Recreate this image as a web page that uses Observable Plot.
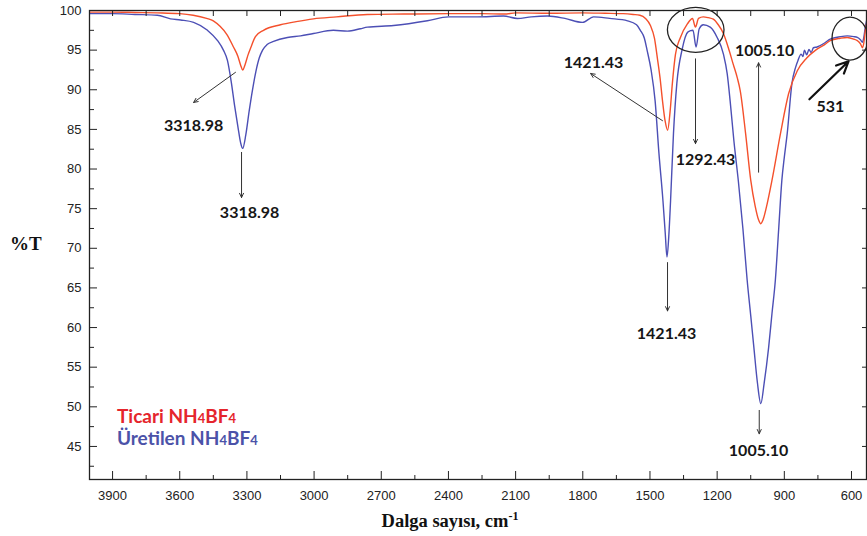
<!DOCTYPE html>
<html><head><meta charset="utf-8">
<script src="https://cdn.jsdelivr.net/npm/d3@7"></script>
<script src="https://cdn.jsdelivr.net/npm/@observablehq/plot@0.6"></script>
<style>
body{margin:0;background:#fff;}
#chart{width:867px;height:536px;}
</style></head><body><div id="chart"></div>
<script>
// ---- data (wavenumber cm-1, %T) ----
const ticariWn = [4000,3900,3800,3700,3600,3540,3480,3450,3420,3390,3360,3340,3328,3319,3308,3295,3283,3262,3226,3150,3080,3003,2900,2762,2600,2400,2250,2150,2100,1950,1800,1700,1620,1575,1545,1520,1498,1480,1467,1455,1444,1432,1421,1410,1400,1386,1364,1333,1310,1297,1283,1262,1240,1217,1195,1172,1150,1128,1110,1097,1073,1050,1030,1015,1005,995,980,955,917,881,842,800,760,720,695,650,619,590,574,560,551,545,539,533];
const ticariT  = [99.8,99.8,99.75,99.7,99.6,99.4,99.0,98.7,98.0,97.0,95.4,94.2,93.1,92.5,93.2,94.4,95.3,96.7,97.5,98.2,98.6,98.95,99.2,99.5,99.55,99.6,99.6,99.55,99.7,99.65,99.7,99.65,99.6,99.5,99.4,99.0,98.1,96.5,94.0,91.5,88.6,86.0,84.9,87.3,90.8,94.5,96.6,98.3,99.0,97.9,99.0,99.2,99.1,98.9,98.2,97.1,95.3,93.2,91.5,89.9,84.5,78.6,75.3,73.6,73.1,73.6,75.2,78.6,84.5,89.5,92.4,94.0,95.0,95.7,96.2,96.5,96.6,96.4,96.2,95.8,95.3,95.9,97.3,98.3];
const uretilenWn = [4000,3900,3800,3700,3641,3596,3538,3476,3431,3405,3387,3370,3355,3340,3328,3319,3305,3290,3275,3260,3245,3230,3210,3181,3119,3060,3003,2914,2851,2793,2762,2645,2494,2400,2270,2154,2092,2030,1958,1880,1801,1752,1680,1600,1560,1543,1525,1513,1495,1477,1460,1442,1432,1424,1416,1408,1395,1380,1357,1330,1308,1294,1280,1262,1231,1200,1172,1155,1142,1125,1105,1085,1066,1050,1036,1020,1005,990,970,955,940,925,911,900,887,866,850,839,825,817,810,800,790,780,770,754,720,695,650,619,590,574,560,551,545,539,533];
const uretilenT  = [99.6,99.6,99.5,99.4,98.95,98.8,98.5,97.5,96.2,95.0,93.7,91.0,88.0,85.3,83.3,82.6,84.3,87.3,90.0,92.3,94.0,95.0,95.7,96.1,96.6,96.8,97.1,97.5,97.4,97.7,97.9,98.1,98.7,99.2,99.2,99.3,99.0,99.2,99.3,99.0,98.5,99.2,99.0,98.7,98.2,97.5,96.5,95.0,92.5,88.6,82.0,76.0,72.0,68.9,71.5,76.0,84.5,90.8,95.0,97.3,97.5,95.4,97.7,98.2,97.9,96.6,94.5,92.0,88.6,83.5,78.4,72.5,66.0,61.5,57.5,53.0,50.4,53.0,57.5,61.8,66.0,72.5,78.6,81.5,84.5,90.8,92.8,93.7,94.5,94.2,95.0,94.4,95.1,94.7,95.3,95.4,95.9,96.4,96.7,96.8,96.7,96.6,96.3,96.0,96.6,97.8,98.7];

const seriesNames  = ["Ticari", "Üretilen"];
const seriesColors = ["#f4502c", "#4c4fb5"];
const legendColors = ["#e5252c", "#4b52a8"];

// axis ticks
const xTicks = [3900,3600,3300,3000,2700,2400,2100,1800,1500,1200,900,600];
const xMinor = [3750,3450,3150,2850,2550,2250,1950,1650,1350,1050,750];
const yTicks = [45,50,55,60,65,70,75,80,85,90,95,100];
const yMinor = [42.5,47.5,52.5,57.5,62.5,67.5,72.5,77.5,82.5,87.5,92.5,97.5];

// peak annotations (label text and anchor in data units)
const labelText = ["3318.98","3318.98","1421.43","1421.43","1292.43","1005.10","1005.10","531"];
const labelWn   = [3538,3288,1752,1426,1252,988,1015,694];
const labelT    = [85.5,74.5,93.45,59.25,81.1,94.95,44.5,87.8];
const arrowWn1  = [3351,3324,1444,1421.6,1296.6,1015,1012,788];
const arrowT1   = [92.2,82.1,86.1,68.2,93.9,79.6,49.55,88.8];
const arrowWn2  = [3538,3324,1765,1421.6,1296.6,1015,1012,613];
const arrowT2   = [88.4,76.4,92.05,62.1,83.2,93.4,46.6,93.6];
const circleWn  = [1293.5, 604.5];
const circleT   = [97.5, 96.4];

const ticari = ticariWn.map((w, i) => ({w, t: ticariT[i], s: seriesNames[0]}));
const uretilen = uretilenWn.map((w, i) => ({w, t: uretilenT[i], s: seriesNames[1]}));
const labels = labelText.map((text, i) => ({text, w: labelWn[i], t: labelT[i]}));
const arrows = arrowWn1.map((w1, i) => ({w1, t1: arrowT1[i], w2: arrowWn2[i], t2: arrowT2[i], thick: i === 7}));

const chart = Plot.plot({
  width: 867, height: 536,
  marginLeft: 89, marginRight: 1, marginTop: 10, marginBottom: 57,
  x: {domain: [4003, 533]},
  y: {domain: [40.83, 100]},
  style: {fontFamily: "'Liberation Sans', Arial, sans-serif", fontSize: "13px", color: "#222", background: "#fff"},
  marks: [
    Plot.line(uretilen, {x: "w", y: "t", stroke: seriesColors[1], strokeWidth: 1.4, curve: "monotone-x", clip: true}),
    Plot.line(ticari, {x: "w", y: "t", stroke: seriesColors[0], strokeWidth: 1.4, curve: "monotone-x", clip: true}),
    Plot.frame({stroke: "#222", strokeWidth: 1.3}),
    Plot.axisX({ticks: xTicks, tickSize: -8, tickPadding: 19, tickFormat: d => String(d), label: null, stroke: "#222", fill: "#222"}),
    Plot.axisX({ticks: xMinor, tickSize: -4, tickFormat: () => "", label: null, stroke: "#222"}),
    Plot.axisX({anchor: "top", ticks: xTicks.concat(xMinor), tickSize: -5, tickFormat: () => "", label: null, stroke: "#222"}),
    Plot.axisY({ticks: yTicks, tickSize: -8, tickPadding: 16, tickFormat: d => String(d), label: null, stroke: "#222", fill: "#222"}),
    Plot.axisY({ticks: yMinor, tickSize: -5, tickFormat: () => "", label: null, stroke: "#222"}),
    Plot.axisY({anchor: "right", ticks: yTicks, tickSize: -5, tickFormat: () => "", label: null, stroke: "#222"}),
    Plot.arrow(arrows.filter(d => !d.thick), {x1: "w1", y1: "t1", x2: "w2", y2: "t2", stroke: "#333", strokeWidth: 1, headLength: 7, headAngle: 50}),
    Plot.arrow(arrows.filter(d => d.thick), {x1: "w1", y1: "t1", x2: "w2", y2: "t2", stroke: "#111", strokeWidth: 2.2, headLength: 9, headAngle: 50}),
    Plot.text(labels, {x: "w", y: "t", text: "text", fontFamily: "Lato, 'Open Sans', sans-serif", fontWeight: 700, fontSize: 16, fill: "#161616"})
  ]
});
document.getElementById("chart").appendChild(chart);

// ellipses, legend and axis titles
const sx = chart.scale("x"), sy = chart.scale("y");
const svg = d3.select(chart);
const ellR = [[28.3, 22.5], [18, 21.5]];
circleWn.forEach((w, i) => {
  svg.append("ellipse")
    .attr("cx", sx.apply(w)).attr("cy", sy.apply(circleT[i]))
    .attr("rx", ellR[i][0]).attr("ry", ellR[i][1])
    .attr("fill", "none").attr("stroke", "#222").attr("stroke-width", 1.3);
});
const leg = svg.append("g").attr("text-anchor", "start").attr("font-family", "Lato, 'Open Sans', sans-serif").attr("font-weight", 700).attr("font-size", 19);
seriesNames.forEach((n, i) => {
  const t = leg.append("text").attr("text-anchor", "start").attr("x", 117).attr("y", 423 + 22 * i).attr("fill", legendColors[i]);
  t.append("tspan").text(n + " NH");
  t.append("tspan").attr("font-size", 13).text("4");
  t.append("tspan").text("BF");
  t.append("tspan").attr("font-size", 13).text("4");
});
const xl = svg.append("text").attr("x", 450).attr("y", 527).attr("text-anchor", "middle")
  .attr("font-family", "'Liberation Serif', 'Times New Roman', serif").attr("font-weight", 700).attr("font-size", 18.5).attr("fill", "#111");
xl.append("tspan").text("Dalga sayısı, cm");
xl.append("tspan").attr("font-size", 12).attr("dy", -7).text("-1");
svg.append("text").attr("text-anchor", "start").attr("x", 10).attr("y", 250)
  .attr("font-family", "'Liberation Serif', 'Times New Roman', serif").attr("font-weight", 700).attr("font-size", 19).attr("fill", "#111")
  .text("%T");
</script>
</body></html>
